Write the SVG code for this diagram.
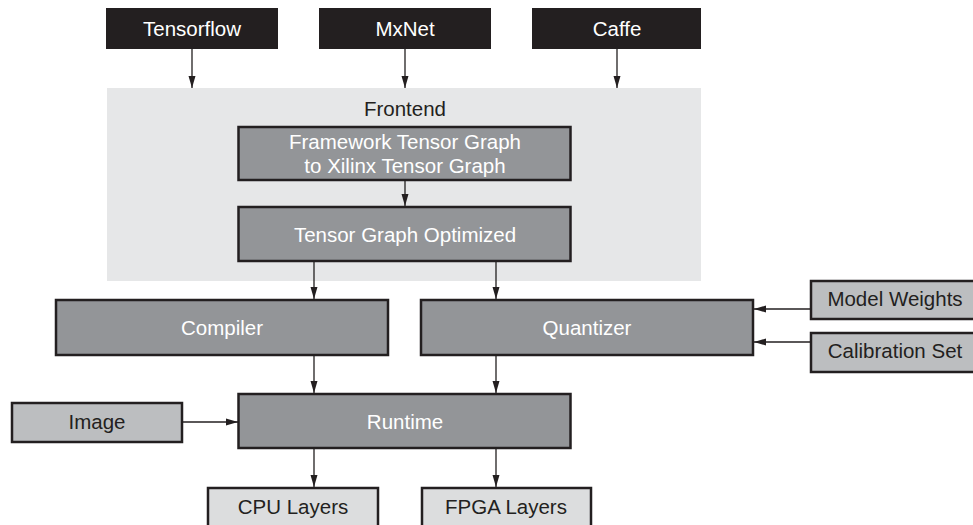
<svg xmlns="http://www.w3.org/2000/svg" width="973" height="525" viewBox="0 0 973 525">
<defs>
<marker id="ah" viewBox="0 0 12 8" refX="12" refY="4" markerWidth="12" markerHeight="8" markerUnits="userSpaceOnUse" orient="auto"><path d="M0,0.5 L12,4 L0,7.5 Z" fill="#231f20"/></marker>
<style>
.blk{fill:#231f20}
.dk{fill:#939598;stroke:#231f20;stroke-width:2.5}
.lt{fill:#bcbec0;stroke:#231f20;stroke-width:2.5}
.lt2{fill:#dcddde;stroke:#231f20;stroke-width:2.5}
.fe{fill:#e6e7e8}
text{font-family:"Liberation Sans",Arial,sans-serif;font-size:20.5px;text-anchor:middle}
.w{fill:#ffffff}
.b{fill:#231f20}
.c line{stroke:#231f20;stroke-width:1.3;marker-end:url(#ah)}
</style>
</defs>
<rect width="973" height="525" fill="#ffffff"/>
<g id="frontend"><rect class="fe" x="107" y="88" width="594" height="193"/><text class="b" x="405" y="116">Frontend</text></g>
<g id="tensorflow"><rect class="blk" x="106" y="8" width="172" height="41"/><text class="w" x="192" y="36">Tensorflow</text></g>
<g id="mxnet"><rect class="blk" x="319" y="8" width="172" height="41"/><text class="w" x="405" y="36">MxNet</text></g>
<g id="caffe"><rect class="blk" x="532" y="8" width="169" height="41"/><text class="w" x="617" y="36">Caffe</text></g>
<g id="framework"><rect class="dk" x="238.5" y="127" width="332" height="53"/><text class="w" x="405" y="149">Framework Tensor Graph</text><text class="w" x="405" y="173">to Xilinx Tensor Graph</text></g>
<g id="optimized"><rect class="dk" x="238.5" y="207" width="332" height="54"/><text class="w" x="405" y="242">Tensor Graph Optimized</text></g>
<g id="compiler"><rect class="dk" x="56" y="300" width="332" height="55"/><text class="w" x="222" y="335">Compiler</text></g>
<g id="quantizer"><rect class="dk" x="421" y="300" width="332" height="55"/><text class="w" x="587" y="335">Quantizer</text></g>
<g id="weights"><rect class="lt" x="811" y="281" width="170" height="38"/><text class="b" x="895" y="306">Model Weights</text></g>
<g id="calibration"><rect class="lt" x="811" y="333" width="170" height="39"/><text class="b" x="895" y="358">Calibration Set</text></g>
<g id="runtime"><rect class="dk" x="238.5" y="394" width="332" height="54"/><text class="w" x="405" y="429">Runtime</text></g>
<g id="image"><rect class="lt" x="12" y="403" width="170" height="39"/><text class="b" x="97" y="429">Image</text></g>
<g id="cpu"><rect class="lt2" x="208" y="488" width="170" height="45"/><text class="b" x="293" y="514">CPU Layers</text></g>
<g id="fpga"><rect class="lt2" x="422" y="488" width="169" height="45"/><text class="b" x="506" y="514">FPGA Layers</text></g>
<g class="c" id="connectors">
<line x1="192" y1="49" x2="192" y2="88"/>
<line x1="405" y1="49" x2="405" y2="88"/>
<line x1="617" y1="49" x2="617" y2="88"/>
<line x1="405" y1="180" x2="405" y2="206"/>
<line x1="314" y1="261" x2="314" y2="299"/>
<line x1="496" y1="261" x2="496" y2="299"/>
<line x1="811" y1="309" x2="754" y2="309"/>
<line x1="811" y1="342" x2="754" y2="342"/>
<line x1="314" y1="355" x2="314" y2="393"/>
<line x1="496" y1="355" x2="496" y2="393"/>
<line x1="182" y1="422" x2="238" y2="422"/>
<line x1="314" y1="448" x2="314" y2="487"/>
<line x1="496" y1="448" x2="496" y2="487"/>
</g>
</svg>
